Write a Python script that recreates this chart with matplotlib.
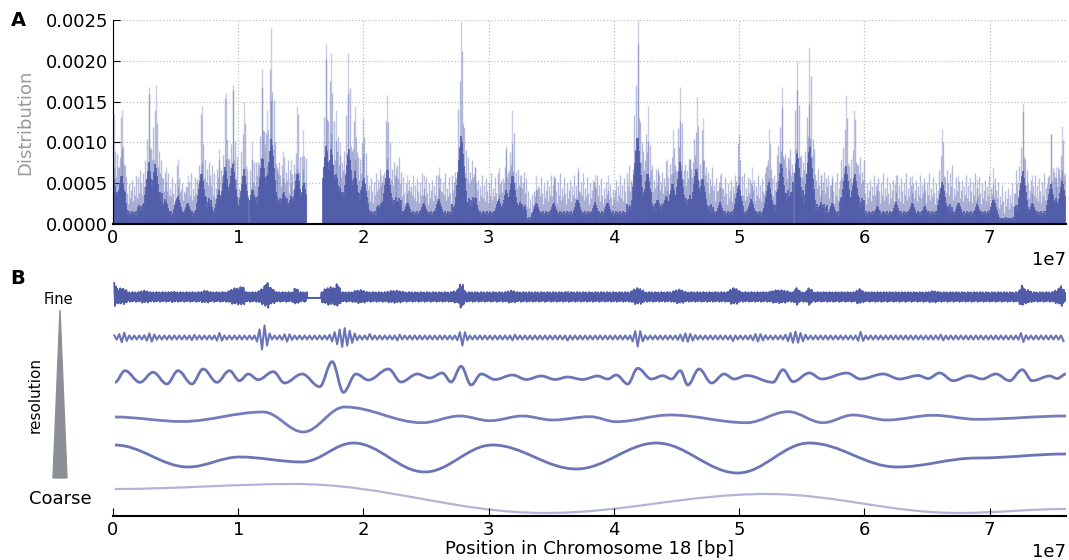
import numpy as np
import matplotlib
matplotlib.use('Agg')
import matplotlib.pyplot as plt
from matplotlib.path import Path
from matplotlib.patches import PathPatch, Polygon
from matplotlib.ticker import FormatStrFormatter

blue = '#515ca9'
MB = 1e6
chrom_end = 76.1

#%% data, panel A (distribution, values in units of 1e-4, one value per Mb)
floor_val = [5, 2, 3, 5, 2, 2, 2, 4, 2, 4, 2, 4, 6, 4, 2, 2, 0,
             6, 5, 5, 2, 3, 4, 2, 2, 2, 2, 3, 4, 2, 2, 3, 3, 1, 2, 2, 2,
             2, 2, 2, 2, 3, 5, 3, 3, 4, 4, 3, 2, 2, 2, 2, 3, 5, 5, 5, 3,
             2, 4, 4, 2, 2, 2, 2, 2, 2, 3, 2, 2, 2, 1, 1, 3, 2, 2, 3, 3]
haze_val = [9, 6, 7, 9, 6, 5, 6, 8, 6, 8, 6, 8, 10, 8, 6, 6, 0,
            10, 9, 9, 6, 7, 8, 6, 6, 6, 6, 7, 8, 6, 6, 7, 7, 4, 6, 6, 6,
            6, 6, 5, 6, 7, 9, 7, 7, 8, 8, 7, 6, 6, 6, 6, 7, 9, 9, 9, 7,
            6, 8, 8, 6, 6, 6, 6, 6, 6, 7, 6, 6, 6, 5, 5, 7, 6, 6, 7, 7]
gap_a = (15.45, 16.7)

peak_mb = [0.05, 0.7, 2.9, 3.4, 4.2, 5.2, 6.0, 7.1, 8.5, 9.0, 9.6, 10.5,
           11.1, 11.9, 12.3, 12.6, 13.1, 13.6, 14.2, 14.7, 15.2,
           17.0, 17.4, 17.8, 18.1, 18.8, 19.3, 20.0, 21.4, 21.9, 22.6,
           23.5, 24.8, 26.0, 27.8, 28.9, 30.8, 31.4, 31.9, 32.5, 33.8,
           35.2, 37.1, 38.5, 39.5, 41.9, 42.7, 43.5, 44.2, 44.7, 45.3,
           46.1, 46.6, 47.1, 48.5, 50.0, 51.0, 52.4, 53.4, 54.0, 54.6,
           55.6, 56.5, 57.4, 58.5, 59.2, 61.0, 62.5, 63.8, 64.8, 66.2,
           67.5, 69.0, 70.3, 72.65, 73.4, 74.9, 75.3, 75.8]
peak_val = [13.5, 14, 16.8, 17, 7, 8, 6, 14.5, 9.2, 16, 17, 15,
            10, 19, 14, 24, 7, 9, 8, 14.5, 11.5,
            22, 21, 14, 10, 21, 14.5, 13, 6, 15.8, 7,
            6, 6, 7, 24.8, 7, 7, 9.5, 14, 6, 6,
            6, 7, 6, 6, 25, 14.5, 7, 8, 11.7, 16.8,
            8, 15.6, 13, 6, 11, 7, 11.7, 16.8, 8, 20,
            21.7, 6, 6, 15.8, 14, 5, 6, 6, 5, 11.7,
            6, 5.5, 7, 14.8, 6, 11, 7, 12]

#%% data, panel B (wavelet rows, relative amplitudes)
# fine rows : (centre Mb, half width Mb, amplitude)
fine1_bursts = [(0.1, 0.4, 15), (0.7, 0.8, 10), (2.5, 1.0, 7.5), (4.8, 0.9, 6.5),
                (7.4, 0.9, 7.5), (9.9, 1.2, 10), (10.3, 0.4, 12), (12.3, 1.1, 11),
                (12.3, 0.4, 16), (14.6, 0.4, 10), (17.4, 1.1, 11),
                (17.9, 0.4, 14), (19.7, 1.2, 8), (22.5, 1.7, 7.5),
                (27.8, 0.4, 15), (27.5, 1.2, 7.5), (31.8, 1.0, 7.5), (36.3, 0.5, 6.5),
                (41.9, 0.9, 10), (45.2, 1.0, 8.5), (49.6, 0.8, 10), (53.2, 1.7, 8),
                (54.6, 0.4, 10.5), (55.6, 0.4, 10.5), (59.6, 0.6, 9), (65.5, 1.2, 7),
                (72.6, 0.4, 12.5), (72.8, 1.1, 8.5), (75.7, 0.4, 12.5), (75.5, 0.9, 8.5)]
fine1_gaps = [(15.5, 16.6)]
fine2_bursts = [(0.8, 0.8, 5.5), (3.0, 1.0, 4.5), (6.4, 0.4, 3.5), (8.5, 0.6, 4.5),
                (12.0, 0.7, 14), (13.9, 1.0, 4), (18.4, 1.5, 10), (20.5, 0.5, 3.5),
                (22.8, 0.5, 3.5), (27.9, 0.6, 8), (32.0, 0.5, 3.5), (36.3, 0.4, 3),
                (41.9, 0.7, 9), (45.8, 1.5, 4.5), (49.5, 0.4, 3.5), (51.5, 1.4, 4),
                (54.5, 1.5, 6), (59.7, 0.5, 5.5), (66.2, 0.5, 3.5), (72.6, 0.5, 5.5),
                (75.9, 0.5, 3.5)]

# smooth rows : extrema (Mb, value)
row3 = [(0.16, -4.3), (0.96, 7.3), (2.15, -4.3), (3.2, 5.7), (4.3, -6), (5.2, 7.3),
        (6.3, -6), (7.2, 9), (8.3, -4.3), (9.3, 7.3), (10.1, -2.7), (10.8, 4),
        (11.6, -1.7), (12.8, 6.3), (13.7, -5), (15.1, 4), (16.5, -8.7), (17.5, 16.3),
        (18.4, -14.3), (19.4, 4), (20.4, -2), (22.0, 9), (23.0, -4), (24.3, 4),
        (25.3, 0), (26.3, 5), (27.0, -4), (27.8, 11.7), (28.6, -7), (29.4, 4),
        (30.5, -1.5), (31.9, 3), (33.0, -1.5), (34.2, 2), (35.3, -1.5), (36.3, 1),
        (37.5, -1.5), (38.7, 2), (39.5, -1), (40.2, 3), (41.1, -6), (41.9, 9.7),
        (43.0, -1), (43.9, 2.3), (44.6, -1), (45.3, 7.3), (45.9, -7), (46.8, 9),
        (47.8, -5), (48.8, 4), (49.6, -1), (50.6, 2.5), (52.7, -4.3), (53.5, 8.3),
        (54.3, -3.7), (55.6, 5), (56.6, -1), (58.6, 5), (59.7, -1), (61.5, 4),
        (62.8, -1), (64.3, 2.5), (65.1, -0.5), (66.0, 5), (67.1, -2.7), (68.4, 2.3),
        (69.4, -1), (70.5, 4), (71.6, -2.7), (72.6, 8.3), (73.4, -2.7), (74.8, 2),
        (75.4, -0.5), (76.1, 4)]
row4 = [(0.16, 1), (5.5, -3.5), (12.0, 6), (15.2, -14), (18.5, 11), (24.7, -4.7),
        (27.7, 2), (30.1, -2.7), (32.7, 2), (35.1, -2), (38.1, 1.3), (40.2, -3.7),
        (44.5, 3), (50.6, -4.7), (53.9, 6.3), (56.7, -4.7), (59.1, 3), (61.8, -2),
        (65.5, 2.7), (69.0, -1.3), (76.1, 2)]
row5 = [(0.16, 12), (6.0, -10), (10.1, 0), (15.1, -5), (19.2, 14), (24.9, -15),
        (30.3, 12), (37.0, -12), (43.4, 14), (49.9, -16), (55.6, 14), (62.6, -10),
        (69.0, -1), (76.1, 3)]
row6 = [(0.16, 11), (14.5, 16), (34.5, -13), (52.2, 6), (67.5, -13), (76.1, -9)]

row_base = [218, 178.5, 138, 98, 59, 16]

# drawing texture only (hair pattern of the dense marks)
hair = np.array([1.0, 0.3, 0.7, 0.2, 0.9, 0.5, 0.15, 0.8, 0.4, 1.05, 0.25, 0.6, 0.35,
                 0.95, 0.45, 0.1, 0.75, 0.3, 0.55, 0.85, 0.2, 0.65, 0.4])
hair2 = np.array([1.0, 0.55, 0.85, 0.4, 0.95, 0.65, 0.75, 0.5])
hair3 = np.array([1.0, 0.7, 1.1, 0.6, 0.9, 1.05, 0.75])


def env(xmb, base, bursts, gaps=(), p=1.0):
    amp = np.full(len(xmb), float(base))
    for c, w, a in bursts:
        tri = a * np.clip(1 - (np.abs(xmb - c) / w) ** p, 0, None)
        amp = np.maximum(amp, tri)
    for g0, g1 in gaps:
        amp[(xmb >= g0) & (xmb <= g1)] = 0.3
    return amp


def smooth(ax, pts, base, **kw):
    xs = [p[0] * MB for p in pts]
    ys = [base + p[1] for p in pts]
    verts = [(xs[0], ys[0])]
    codes = [Path.MOVETO]
    for i in range(1, len(xs)):
        dx = xs[i] - xs[i - 1]
        verts += [(xs[i - 1] + 0.36 * dx, ys[i - 1]), (xs[i] - 0.36 * dx, ys[i]), (xs[i], ys[i])]
        codes += [Path.CURVE4] * 3
    ax.add_patch(PathPatch(Path(verts, codes), fill=False, **kw))


plt.rcParams['font.family'] = 'DejaVu Sans'
fs = 13
fig = plt.figure(figsize=(10.69, 5.6), dpi=100)

#%% panel A
ax1 = fig.add_axes([113 / 1069, 1 - 224 / 560, 953 / 1069, 204 / 560])
fv = np.array(floor_val) * 1e-4
hv = np.array(haze_val) * 1e-4
xs = np.arange(0.02, chrom_end, 0.08)
ib = np.minimum(xs.astype(int), len(fv) - 1)
pat = np.resize(hair, len(xs))
h = fv[ib] + (hv[ib] - fv[ib]) * pat
hp = np.zeros(len(xs))
for m, v in zip(peak_mb, peak_val):
    tri = v * 1e-4 * np.clip(1 - np.abs(xs - m) / 0.6, 0, None)
    hp = np.maximum(hp, tri)
h = np.maximum(h, hp * np.resize(hair2, len(xs)))
core = np.maximum(fv[ib] * 0.75 * np.resize(hair3, len(xs)), hp * 0.45)
ingap = (xs >= gap_a[0]) & (xs <= gap_a[1])
h[ingap] = 0
core[ingap] = 0
ax1.vlines(xs * MB, 0, h, color=blue, alpha=0.4, lw=1.0)
ax1.vlines(xs * MB, 0, core, color=blue, lw=1.2)
for m, v in zip(peak_mb, peak_val):
    ax1.vlines(m * MB, 0, v * 1e-4, color=blue, alpha=0.3, lw=1.0)

ax1.set_xlim(0, chrom_end * MB)
ax1.set_ylim(0, 0.0025)
ax1.set_yticks(np.arange(0, 0.0026, 0.0005))
ax1.yaxis.set_major_formatter(FormatStrFormatter('%.4f'))
ax1.set_xticks(np.arange(0, 8) * 1e7)
ax1.grid(True, ls=':', color='#c0c0c0', lw=0.9)
ax1.set_axisbelow(True)
for s in ['top', 'right']:
    ax1.spines[s].set_visible(False)
ax1.spines['bottom'].set_linewidth(1.5)
ax1.tick_params(direction='in', length=5, labelsize=fs, top=False, right=False)
ax1.set_ylabel('Distribution', color='#9a9a9a', fontsize=fs, labelpad=8)
ax1.xaxis.get_offset_text().set_fontsize(fs)

#%% panel B
ax2 = fig.add_axes([113 / 1069, 1 - 516 / 560, 953 / 1069, 235 / 560])
x1 = np.arange(0.1, chrom_end, 0.06)
a1 = env(x1, 6.0, fine1_bursts, fine1_gaps, p=2) * np.resize(hair2, len(x1))
s1 = np.where(np.arange(len(x1)) % 2 == 0, 1, -1)
ax2.plot(x1 * MB, row_base[0] + s1 * a1, color=blue, lw=1.3)
x2 = np.arange(0.1, chrom_end, 0.2)
a2 = env(x2, 2.0, fine2_bursts)
s2 = np.where(np.arange(len(x2)) % 2 == 0, 1, -1)
ax2.plot(x2 * MB, row_base[1] + s2 * a2, color=blue, lw=1.5, alpha=0.85)
smooth(ax2, row3, row_base[2], color=blue, lw=2, alpha=0.85)
smooth(ax2, row4, row_base[3], color=blue, lw=2, alpha=0.8)
smooth(ax2, row5, row_base[4], color=blue, lw=2, alpha=0.85)
smooth(ax2, row6, row_base[5], color=blue, lw=1.6, alpha=0.45)

ax2.set_xlim(0, chrom_end * MB)
ax2.set_ylim(0, 235)
ax2.set_xticks(np.arange(0, 8) * 1e7)
ax2.set_yticks([])
for s in ['top', 'right', 'left']:
    ax2.spines[s].set_visible(False)
ax2.spines['bottom'].set_linewidth(1.5)
ax2.tick_params(direction='in', length=6, labelsize=fs)
ax2.set_xlabel('Position in Chromosome 18 [bp]', fontsize=fs, labelpad=1)
ax2.xaxis.get_offset_text().set_fontsize(fs)

#%% annotations
fig.text(18 / 1069, 1 - 20 / 560, 'A', fontsize=14, fontweight='bold', ha='center', va='center')
fig.text(18 / 1069, 1 - 278 / 560, 'B', fontsize=14, fontweight='bold', ha='center', va='center')
fig.text(58 / 1069, 1 - 299 / 560, 'Fine', fontsize=10.5, ha='center', va='center')
fig.text(60 / 1069, 1 - 499 / 560, 'Coarse', fontsize=13, ha='center', va='center')
fig.text(35 / 1069, 1 - 395 / 560, 'resolution', fontsize=11, rotation=90, ha='center', va='center')
fig.patches.append(Polygon([(60 / 1069, 1 - 310 / 560), (53 / 1069, 1 - 478 / 560),
                            (67 / 1069, 1 - 478 / 560)], closed=True, color='#8c8f96',
                           transform=fig.transFigure, figure=fig))

fig.savefig('out.png', dpi=100)
